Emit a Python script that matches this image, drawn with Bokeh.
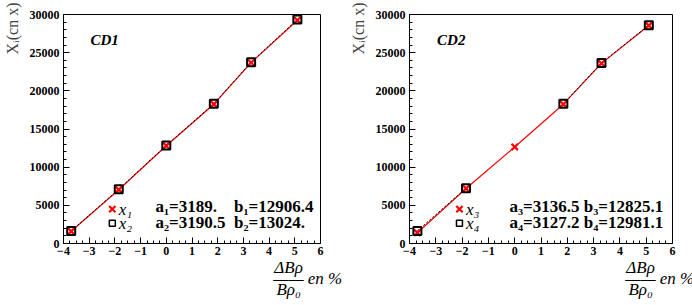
from bokeh.plotting import figure
from bokeh.layouts import row
from bokeh.models import Label, FixedTicker
from bokeh.embed import file_html
from bokeh.resources import INLINE

# ---- data ----
dbr = [-3.7, -1.85, 0.0, 1.85, 3.3, 5.1]
x1 = [1600, 7050, 12800, 18250, 23700, 29250]
x2 = [1650, 7100, 12850, 18300, 23750, 29350]
x3 = [1400, 7200, 12650, 18250, 23600, 28550]
x4 = [1650, 7250, float("nan"), 18300, 23650, 28600]
x4_pts = [1650, 7250, 18300, 23650, 28600]
x4_x = [-3.7, -1.85, 1.85, 3.3, 5.1]
x_ticks = [-4, -3, -2, -1, 0, 1, 2, 3, 4, 5, 6]
y_ticks = [0, 5000, 10000, 15000, 20000, 25000, 30000]
panels = ["CD1", "CD2"]
NB = "\u00a0"
fit_lines = [["a\u2081=3189." + NB * 4 + "b\u2081=12906.4", "a\u2082=3190.5" + NB * 2 + "b\u2082=13024."],
             ["a\u2083=3136.5" + NB + "b\u2083=12825.1", "a\u2084=3127.2" + NB + "b\u2084=12981.1"]]
legend_names = [["x\u2081", "x\u2082"], ["x\u2083", "x\u2084"]]
xlabel_lines = ["\u0394B\u03c1" + NB * 15,
                "\u2014\u2014" + NB + "en %" + NB * 6,
                "B\u03c1\u2080" + NB * 15]
ylabel = "X\u1d62(cn x)" + NB * 7

SERIF = "Liberation Serif"
H = 305
FRAME_BOTTOM = 243


def make_panel(idx, ya, yb, xb, yb_vals, bl, br, text_x):
    p = figure(width=346, height=H, x_range=(-4, 6), y_range=(0, 30000),
               output_backend="svg", toolbar_location=None,
               min_border_left=bl, min_border_right=br,
               min_border_top=14, min_border_bottom=H - FRAME_BOTTOM)
    p.grid.visible = False
    p.outline_line_color = "black"
    p.background_fill_color = "white"
    p.border_fill_color = "white"
    for ax in (p.xaxis[0], p.yaxis[0]):
        ax.major_label_text_font = SERIF
        ax.major_label_text_font_style = "bold"
        ax.major_label_text_font_size = "12px"
        ax.major_label_text_color = "black"
        ax.axis_line_color = "black"
        ax.major_tick_line_color = "black"
        ax.minor_tick_line_color = "black"
        ax.major_tick_in = 6
        ax.major_tick_out = 0
        ax.minor_tick_in = 3
        ax.minor_tick_out = 0
    p.xaxis.ticker = FixedTicker(ticks=x_ticks,
                                 minor_ticks=[v / 4 for v in range(-16, 25)])
    p.yaxis.ticker = FixedTicker(ticks=y_ticks,
                                 minor_ticks=list(range(0, 30001, 1000)))
    p.xaxis.major_label_standoff = 3
    p.yaxis.major_label_standoff = 4
    p.yaxis.axis_label = ylabel
    p.yaxis.axis_label_text_font = SERIF
    p.yaxis.axis_label_text_font_style = "normal"
    p.yaxis.axis_label_text_font_size = "16px"
    p.yaxis.axis_label_standoff = 6
    p.yaxis.axis_label_align = "end"

    # x axis label: stacked fraction on three lines
    p.xaxis.axis_label = "\n".join(xlabel_lines)
    p.xaxis.axis_label_text_font = SERIF
    p.xaxis.axis_label_text_font_style = "italic"
    p.xaxis.axis_label_text_font_size = "17px"
    p.xaxis.axis_label_text_line_height = 0.6
    p.xaxis.axis_label_text_color = "black"
    p.xaxis.axis_label_align = "end"
    p.xaxis.axis_label_standoff = 0

    # fit lines
    p.line(dbr, ya, line_color="red", line_width=1.2)
    p.line(dbr, yb_vals, line_color="black", line_width=1, line_dash="2 2")
    # points
    p.scatter(dbr, ya, marker="x", size=9, line_color="red", line_width=2.2)
    p.scatter(xb, yb, marker="square", size=8, fill_color=None,
              line_color="black", line_width=2)

    # panel title
    p.add_layout(Label(x=-2.95, y=26600, text=panels[idx], text_font=SERIF,
                       text_font_style="bold italic", text_font_size="15px",
                       text_baseline="middle", text_color="black"))
    # legend
    p.scatter([-2.1], [4500], marker="x", size=9, line_color="red", line_width=2.2)
    p.scatter([-2.1], [2650], marker="square", size=6, fill_color=None,
              line_color="black", line_width=1.5)
    p.add_layout(Label(x=-1.85, y=4500, text=legend_names[idx][0], text_font=SERIF,
                       text_font_style="italic", text_font_size="17px",
                       text_baseline="middle", text_color="black"))
    p.add_layout(Label(x=-1.85, y=2650, text=legend_names[idx][1], text_font=SERIF,
                       text_font_style="italic", text_font_size="17px",
                       text_baseline="middle", text_color="black"))
    # fit parameters
    for k, yy in enumerate([4850, 2800]):
        p.add_layout(Label(x=text_x, y=yy, text=fit_lines[idx][k], text_font=SERIF,
                           text_font_style="bold", text_font_size="17px",
                           text_baseline="middle", text_color="black"))
    return p


p1 = make_panel(0, x1, x2, dbr, x2, 63, 26, -0.42)
p2 = make_panel(1, x3, x4_pts, x4_x, x4, 61, 20, -0.2)
layout = row(p1, p2)

open("out.html", "w").write(file_html(layout, INLINE))
